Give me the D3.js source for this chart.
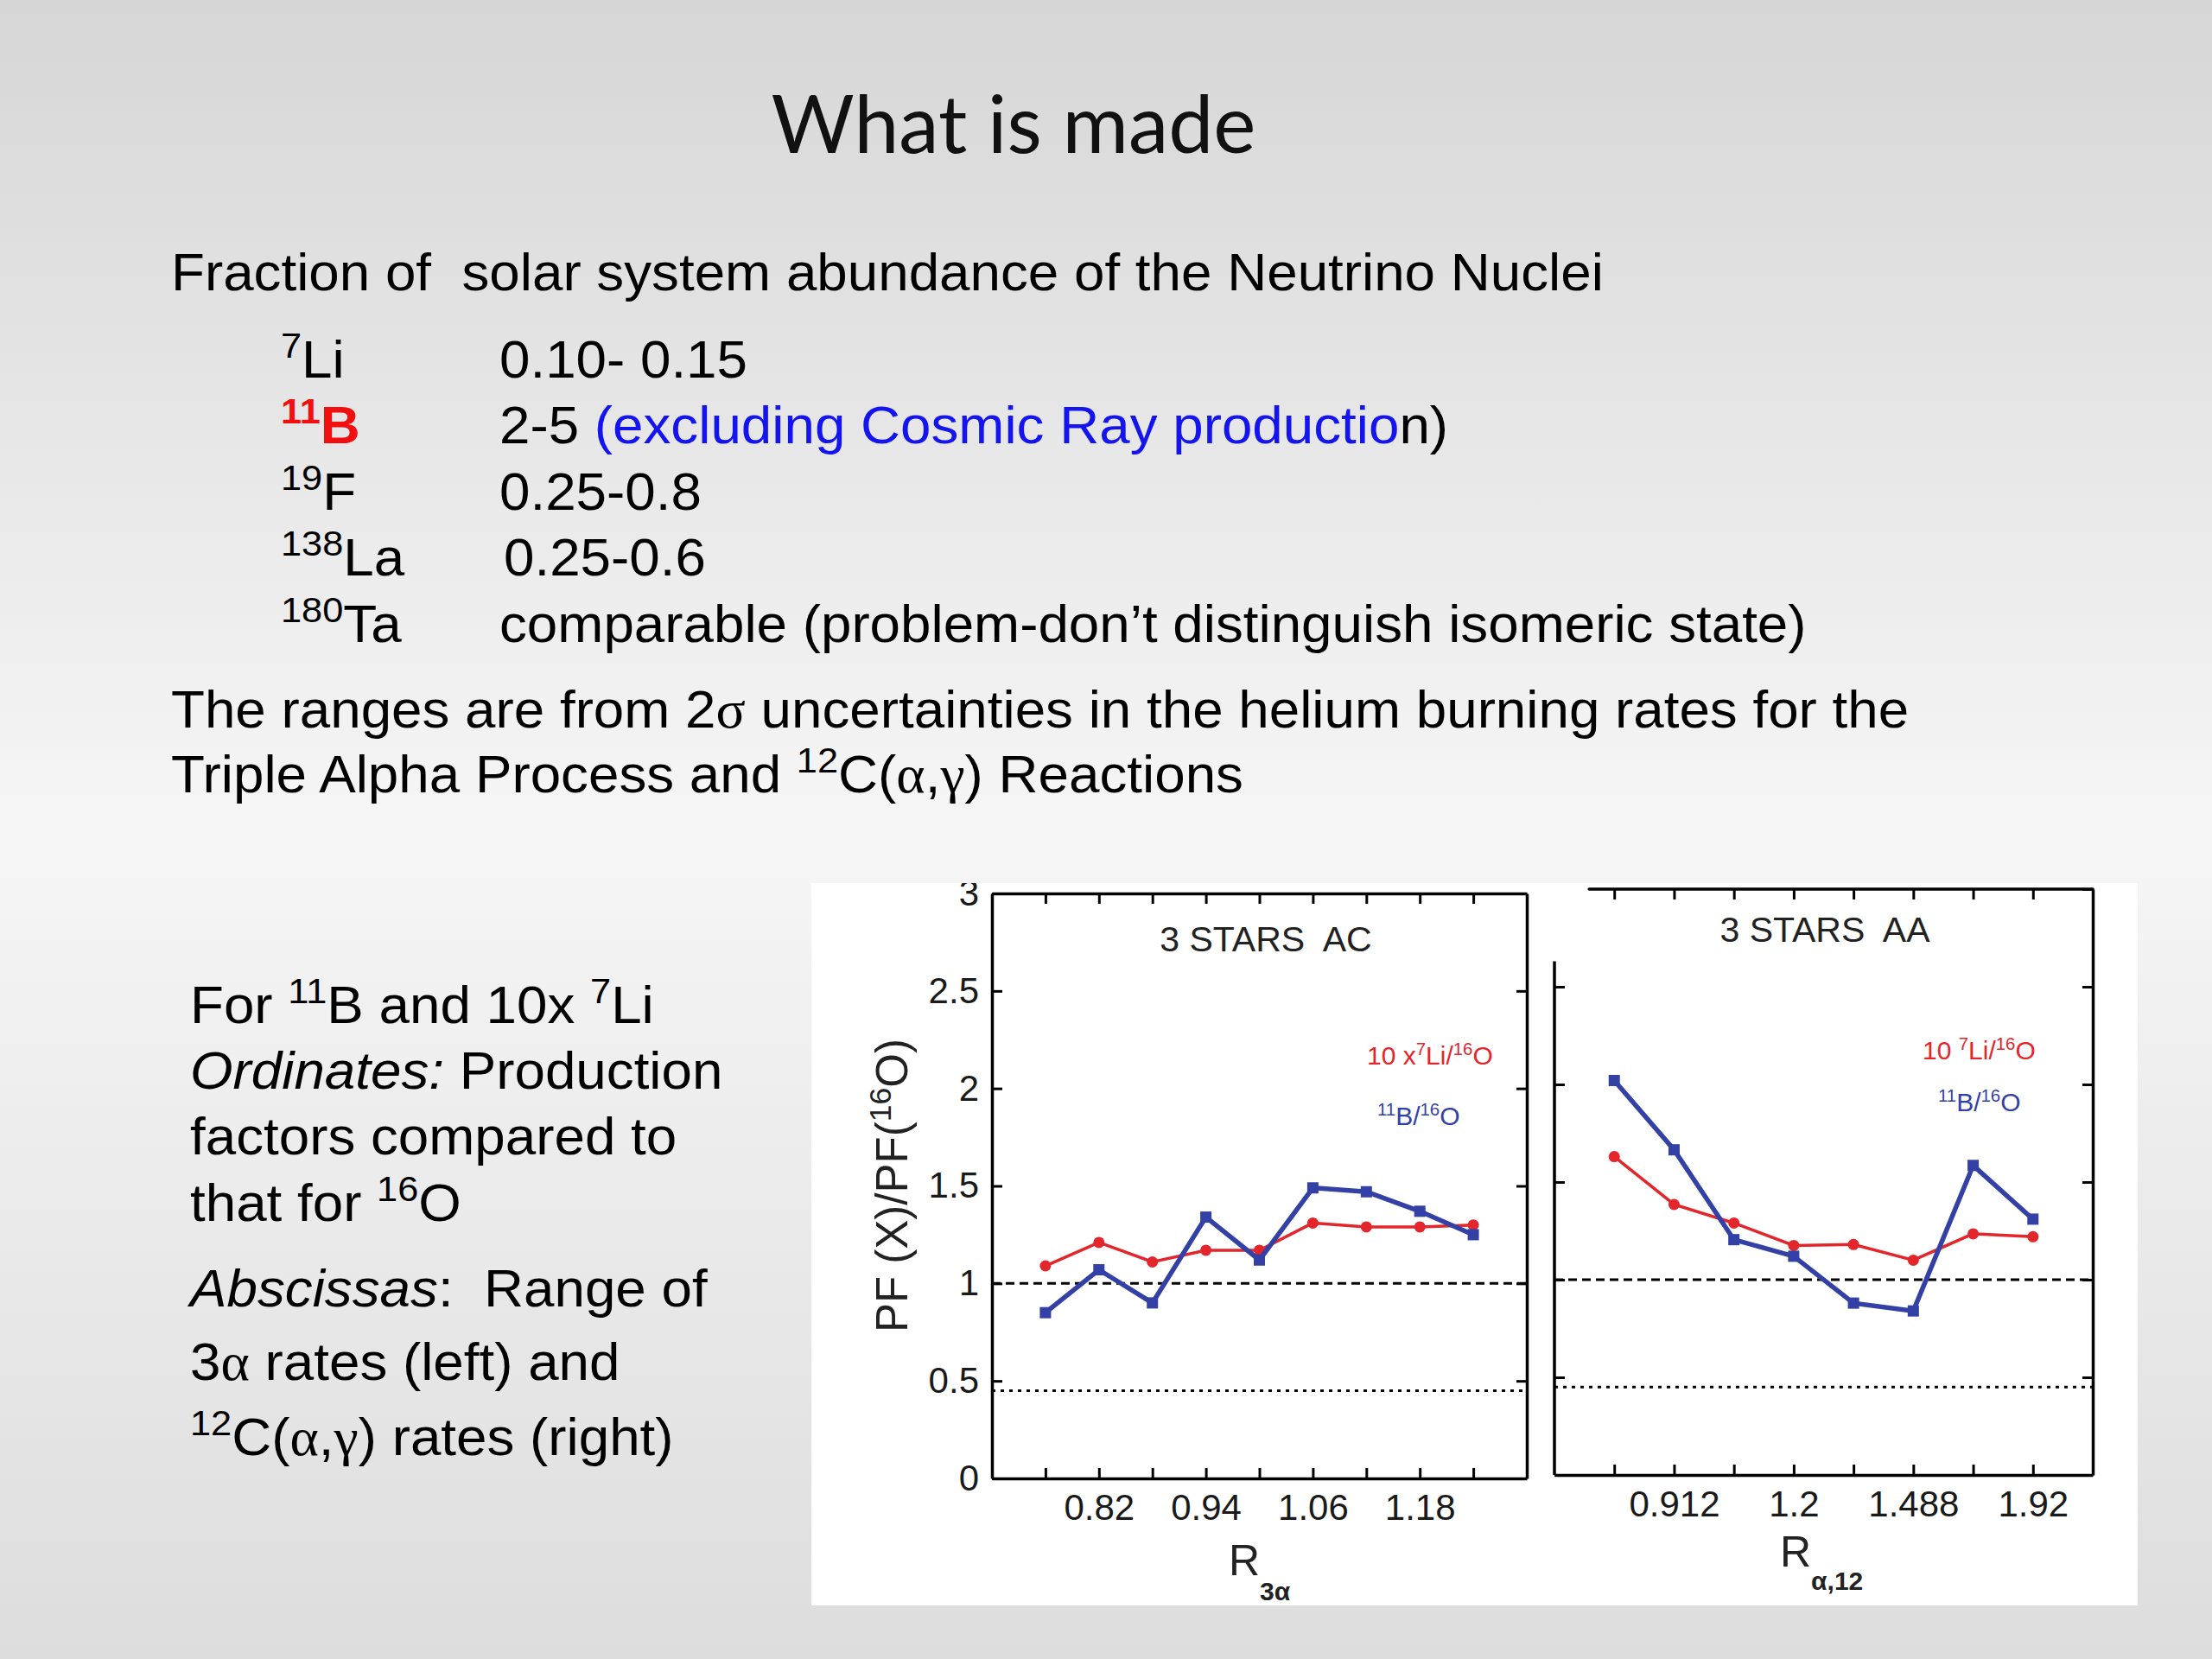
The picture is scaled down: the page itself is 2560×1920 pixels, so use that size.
<!DOCTYPE html>
<html lang="en">
<head>
<meta charset="UTF-8">
<title>What is made</title>
<script src="https://d3js.org/d3.v7.min.js"></script>
<style>
  body { margin: 0; padding: 0; }
  svg { display: block; }
  text { font-family: "Liberation Sans", Arial, sans-serif; white-space: pre; }
</style>
</head>
<body>
<div id="slide"></div>
<script>
// ---- data ----
const yTicks = [0, 0.5, 1, 1.5, 2, 2.5, 3];
const yTickLabels = ["0", "0.5", "1", "1.5", "2", "2.5", "3"];
const refLines = [1, 0.45];            // dashed, dotted

// left panel: 3 STARS AC, range of 3-alpha rates
const acRates = [0.76, 0.82, 0.88, 0.94, 1.00, 1.06, 1.12, 1.18, 1.24];
const acTickLabels = ["", "0.82", "", "0.94", "", "1.06", "", "1.18", ""];
const acLi = [1.09, 1.21, 1.11, 1.17, 1.17, 1.31, 1.29, 1.29, 1.30];
const acB  = [0.85, 1.07, 0.90, 1.34, 1.12, 1.49, 1.47, 1.37, 1.25];

// right panel: 3 STARS AA, range of 12C(a,g) rates
const aaRates = ["r1", "r2", "r3", "r4", "r5", "r6", "r7", "r8"];
const aaTickLabels = ["", "0.912", "", "1.2", "", "1.488", "", "1.92"];
const aaLi = [1.63, 1.385, 1.29, 1.175, 1.18, 1.10, 1.235, 1.22];
const aaB  = [2.02, 1.665, 1.205, 1.12, 0.88, 0.84, 1.585, 1.31];

// slide text
const nucleiMass = ["7", "11", "19", "138", "180"];
const nucleiName = ["Li", "B", "F", "La", "Ta"];
const nucleiRange = ["0.10- 0.15", "2-5 ", "0.25-0.8", "0.25-0.6",
  "comparable (problem-don\u2019t distinguish isomeric state)"];

const RED = "#e2262c", BLUE = "#3341a6";

const W = 2560, H = 1920;
const svg = d3.select("#slide").append("svg").attr("width", W).attr("height", H);

const defs = svg.append("defs");
const grad = defs.append("linearGradient").attr("id", "bg").attr("x1", 0).attr("y1", 0).attr("x2", 0).attr("y2", 1);
grad.append("stop").attr("offset", "0%").attr("stop-color", "#d6d6d6");
grad.append("stop").attr("offset", "50%").attr("stop-color", "#f6f6f6");
grad.append("stop").attr("offset", "100%").attr("stop-color", "#dddddd");
svg.append("rect").attr("width", W).attr("height", H).attr("fill", "url(#bg)");

// text with super/subscripts; opts.sx stretches it horizontally
function rich(parent, x, y, segs, size, opts = {}) {
  const t = parent.append("text")
    .attr("font-size", size)
    .attr("text-anchor", opts.anchor || "start")
    .attr("fill", opts.fill || "#000");
  if (opts.sx) t.attr("x", 0).attr("y", 0).attr("transform", `translate(${x},${y}) scale(${opts.sx},1)`);
  else t.attr("x", x).attr("y", y);
  if (opts.family) t.style("font-family", opts.family);
  const supScale = opts.supScale || 0.62;
  let shift = 0;
  segs.forEach(s => {
    const seg = typeof s === "string" ? { t: s } : s;
    let target = 0;
    if (seg.sup) target = -size * 0.37;
    if (seg.sub) target = size * 0.3;
    if (seg.shift != null) target = seg.shift;
    const ts = t.append("tspan").attr("dy", target - shift).text(seg.t);
    shift = target;
    if (seg.sup || seg.sub) ts.attr("font-size", size * supScale);
    if (seg.size) ts.attr("font-size", seg.size);
    if (seg.fill) ts.attr("fill", seg.fill);
    if (seg.italic) ts.attr("font-style", "italic");
    if (seg.bold) ts.attr("font-weight", "bold");
    if (seg.serif) ts.style("font-family", "'Liberation Serif', 'DejaVu Serif', serif");
  });
  return t;
}

// ---- slide text ----
svg.append("text").attr("x", 1173).attr("y", 177).attr("text-anchor", "middle")
  .attr("font-size", 93).style("font-family", "Lato, 'Open Sans', sans-serif")
  .attr("fill", "#111").text("What is made");

const FS = 61;
const body = { sx: 1.045, supScale: 0.68 };
rich(svg, 198, 336, ["Fraction of  solar system abundance of the Neutrino Nuclei"], FS, body);

const rowY = [437, 513, 590, 666, 743];
nucleiName.forEach((n, i) => {
  const isB = n === "B";
  rich(svg, 325, rowY[i], [
    { t: nucleiMass[i], sup: true, fill: isB ? "#f01010" : null, bold: isB },
    { t: n, fill: isB ? "#f01010" : null, bold: isB }
  ], FS, body);
  const vx = n === "La" ? 583 : 578;
  if (isB) {
    rich(svg, vx, rowY[i], [
      nucleiRange[i],
      { t: "(excluding Cosmic Ray productio", fill: "#1414ee" },
      "n)"
    ], FS, body);
  } else {
    rich(svg, vx, rowY[i], [nucleiRange[i]], FS, body);
  }
});

rich(svg, 198, 842, ["The ranges are from 2", { t: "\u03c3", serif: true },
  " uncertainties in the helium burning rates for the"], FS, body);
rich(svg, 198, 917, ["Triple Alpha Process and ", { t: "12", sup: true }, "C(",
  { t: "\u03b1", serif: true }, ",", { t: "\u03b3", serif: true }, ") Reactions"], FS, body);

const leftLines = [
  [1184, ["For ", { t: "11", sup: true }, "B and 10x ", { t: "7", sup: true }, "Li"]],
  [1260, [{ t: "Ordinates:", italic: true }, " Production"]],
  [1336, ["factors compared to"]],
  [1413, ["that for ", { t: "16", sup: true }, "O"]],
  [1512, [{ t: "Abscissas", italic: true }, ":  Range of"]],
  [1597, ["3", { t: "\u03b1", serif: true }, " rates (left) and"]],
  [1684, [{ t: "12", sup: true }, "C(", { t: "\u03b1", serif: true }, ",",
          { t: "\u03b3", serif: true }, ") rates (right)"]]
];
leftLines.forEach(([y, segs]) => rich(svg, 220, y, segs, FS, body));

// ---- chart panel ----
const panel = { x: 939, y: 1022, w: 1535, h: 836 };
defs.append("clipPath").attr("id", "panelClip").append("rect")
  .attr("x", panel.x).attr("y", panel.y).attr("width", panel.w).attr("height", panel.h);
const chart = svg.append("g").attr("clip-path", "url(#panelClip)");
chart.append("rect").attr("x", panel.x).attr("y", panel.y)
  .attr("width", panel.w).attr("height", panel.h).attr("fill", "#fff");

const TICK = 12, FRAME_W = 3.5;

function styleAxis(g, fontSize) {
  g.attr("font-family", null).style("font-family", "'Liberation Sans', Arial, sans-serif")
    .attr("font-size", fontSize);
  g.selectAll("path.domain").attr("stroke", "#000").attr("stroke-width", FRAME_W);
  g.selectAll(".tick line").attr("stroke", "#000").attr("stroke-width", 3);
  g.selectAll(".tick text").attr("fill", "#1a1a1a");
}

function drawSeries(g, x, y, xs, li, b) {
  const lineLi = d3.line().x((d, i) => x(xs[i])).y(d => y(d));
  g.append("path").datum(li).attr("d", lineLi).attr("fill", "none")
    .attr("stroke", RED).attr("stroke-width", 3.5);
  g.selectAll(null).data(li).join("circle")
    .attr("cx", (d, i) => x(xs[i])).attr("cy", d => y(d)).attr("r", 6.5).attr("fill", RED);
  g.append("path").datum(b).attr("d", lineLi).attr("fill", "none")
    .attr("stroke", BLUE).attr("stroke-width", 5.5);
  const S = 13;
  g.selectAll(null).data(b).join("rect")
    .attr("x", (d, i) => x(xs[i]) - S / 2).attr("y", d => y(d) - S / 2)
    .attr("width", S).attr("height", S).attr("fill", BLUE);
}

function drawRefLines(g, x0, x1, y) {
  g.append("line").attr("x1", x0).attr("x2", x1).attr("y1", y(refLines[0])).attr("y2", y(refLines[0]))
    .attr("stroke", "#000").attr("stroke-width", 3).attr("stroke-dasharray", "10,6");
  g.append("line").attr("x1", x0).attr("x2", x1).attr("y1", y(refLines[1])).attr("y2", y(refLines[1]))
    .attr("stroke", "#000").attr("stroke-width", 3).attr("stroke-dasharray", "4,6");
}

const legendOpts = { supScale: 0.68 };

// left plot
{
  const x = d3.scaleLinear().domain([0.70, 1.30]).range([1148, 1767]);
  const y = d3.scaleLinear().domain([0, 3]).range([1711, 1034]);
  const g = chart.append("g");
  drawRefLines(g, x.range()[0], x.range()[1], y);

  g.append("g").attr("transform", `translate(0,${y(0)})`)
    .call(d3.axisBottom(x).tickValues(acRates).tickSize(-TICK).tickSizeOuter(0).tickPadding(18)
      .tickFormat((d, i) => acTickLabels[i]))
    .call(a => styleAxis(a, 42));
  g.append("g").attr("transform", `translate(0,${y(3)})`)
    .call(d3.axisTop(x).tickValues(acRates).tickSize(-TICK).tickSizeOuter(0).tickFormat(""))
    .call(a => styleAxis(a, 42));
  g.append("g").attr("transform", `translate(${x(0.70)},0)`)
    .call(d3.axisLeft(y).tickValues(yTicks).tickSize(-TICK).tickSizeOuter(0).tickPadding(15)
      .tickFormat((d, i) => yTickLabels[i]))
    .call(a => styleAxis(a, 42));
  g.append("g").attr("transform", `translate(${x(1.30)},0)`)
    .call(d3.axisRight(y).tickValues(yTicks).tickSize(-TICK).tickSizeOuter(0).tickFormat(""))
    .call(a => styleAxis(a, 42));

  drawSeries(g, x, y, acRates, acLi, acB);

  rich(g, 1465, 1101, ["3 STARS  AC"], 41, { anchor: "middle", fill: "#222" });
  rich(g, 1582, 1232, ["10 x", { t: "7", sup: true }, "Li/", { t: "16", sup: true }, "O"], 30,
    { ...legendOpts, fill: RED });
  rich(g, 1594, 1302, [{ t: "11", sup: true }, "B/", { t: "16", sup: true }, "O"], 30,
    { ...legendOpts, fill: BLUE });

  rich(g, 1422, 1823, ["R", { t: "3\u03b1", shift: 29, size: 30, bold: true }], 50, { fill: "#222" });

  rich(g, 0, 0, ["PF (X)/PF(", { t: "16", sup: true }, "O)"], 51,
    { anchor: "middle", fill: "#222", supScale: 0.7 })
    .attr("transform", "translate(1050,1372) rotate(-90)");
}

// right plot
{
  const x = d3.scalePoint().domain(aaRates).range([1799, 2422]).padding(1);
  const y = d3.scaleLinear().domain([0, 3]).range([1707, 1029]);
  const g = chart.append("g");
  const [x0, x1] = x.range();
  drawRefLines(g, x0, x1, y);

  g.append("g").attr("transform", `translate(0,${y(0)})`)
    .call(d3.axisBottom(x).tickSize(-TICK).tickSizeOuter(0).tickPadding(18)
      .tickFormat((d, i) => aaTickLabels[i]))
    .call(a => styleAxis(a, 42));
  // top edge starts a little right of the left edge
  const topAx = g.append("g").attr("transform", `translate(0,${y(3)})`)
    .call(d3.axisTop(x).tickSize(-TICK).tickSizeOuter(0).tickFormat(""))
    .call(a => styleAxis(a, 42));
  topAx.select("path.domain").remove();
  g.append("line").attr("x1", x0 + x.step() * 0.58).attr("x2", x1).attr("y1", y(3)).attr("y2", y(3))
    .attr("stroke", "#000").attr("stroke-width", FRAME_W).attr("stroke-linecap", "round");
  // left edge starts below the top
  const leftAx = g.append("g").attr("transform", `translate(${x0},0)`)
    .call(d3.axisLeft(y).tickValues(yTicks.slice(0, 6)).tickSize(-TICK).tickSizeOuter(0).tickFormat(""))
    .call(a => styleAxis(a, 42));
  leftAx.select("path.domain").remove();
  g.append("line").attr("x1", x0).attr("x2", x0).attr("y1", y(2.63)).attr("y2", y(0))
    .attr("stroke", "#000").attr("stroke-width", FRAME_W);
  g.append("g").attr("transform", `translate(${x1},0)`)
    .call(d3.axisRight(y).tickValues(yTicks).tickSize(-TICK).tickSizeOuter(0).tickFormat(""))
    .call(a => styleAxis(a, 42));

  drawSeries(g, x, y, aaRates, aaLi, aaB);

  rich(g, 2112, 1090, ["3 STARS  AA"], 41, { anchor: "middle", fill: "#222" });
  rich(g, 2225, 1226, ["10 ", { t: "7", sup: true }, "Li/", { t: "16", sup: true }, "O"], 30,
    { ...legendOpts, fill: RED });
  rich(g, 2243, 1286, [{ t: "11", sup: true }, "B/", { t: "16", sup: true }, "O"], 30,
    { ...legendOpts, fill: BLUE });

  rich(g, 2060, 1813, ["R", { t: "\u03b1,12", shift: 27, size: 30, bold: true }], 50, { fill: "#222" });
}
</script>
</body>
</html>
